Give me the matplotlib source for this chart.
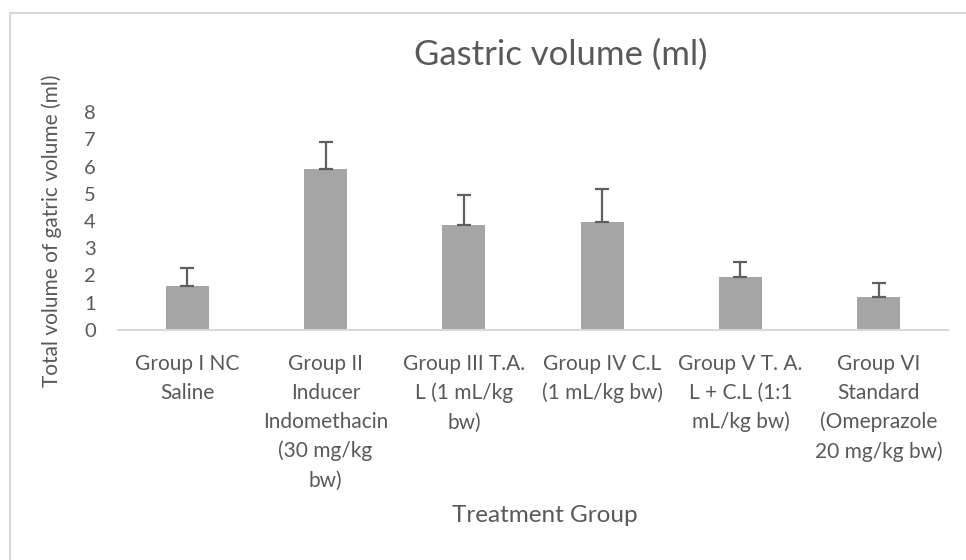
import numpy as np
import matplotlib.pyplot as plt
from matplotlib.patches import Rectangle

# data
groups = ['Group I NC\nSaline',
          'Group II\nInducer\nIndomethacin\n(30 mg/kg\nbw)',
          'Group III T.A.\nL (1 mL/kg\nbw)',
          'Group IV C.L\n(1 mL/kg bw)',
          'Group V T. A.\nL + C.L (1:1\nmL/kg bw)',
          'Group VI\nStandard\n(Omeprazole\n20 mg/kg bw)']
volume = [1.62, 5.9, 3.87, 3.97, 1.96, 1.21]
err = [0.65, 1.0, 1.08, 1.22, 0.54, 0.51]
yticks = [0, 1, 2, 3, 4, 5, 6, 7, 8]

txt = '#595959'
plt.rcParams['font.family'] = ['Lato', 'DejaVu Sans']

W, H = 966, 560
fig = plt.figure(figsize=(W/100, H/100), dpi=100)
ax = fig.add_axes([118/W, (H-330)/H, 830/W, 218/H])

x = np.arange(len(groups))
ax.bar(x, volume, width=0.31, color='#A5A5A5', zorder=2)
ax.errorbar(x, volume, yerr=[np.zeros(len(err)), err], fmt='none',
            ecolor='#5f5f5f', elinewidth=1.6, capsize=5, capthick=1.6, zorder=3)

ax.set_xlim(-0.5, len(groups)-0.5)
ax.set_ylim(0, 8)
ax.set_yticks(yticks)
ax.set_xticks(x)
ax.set_xticklabels(groups, linespacing=1.56, fontsize=15, color=txt)
ax.tick_params(axis='y', labelsize=14.5, colors=txt, length=0, pad=16)
ax.tick_params(axis='x', length=0, pad=17)
for s in ['top', 'right', 'left']:
    ax.spines[s].set_visible(False)
ax.spines['bottom'].set_color('#D9D9D9')
ax.spines['bottom'].set_linewidth(1.5)

fig.text(561/W, 1-55/H, 'Gastric volume (ml)', ha='center', va='center',
         fontsize=25, color=txt)
fig.text(52/W, 1-231/H, 'Total volume of gatric volume (ml)', ha='center',
         va='center', rotation=90, fontsize=15, color=txt)
fig.text(545/W, 1-516/H, 'Treatment Group', ha='center', va='center',
         fontsize=17.5, color=txt)

# chart border (left and top edges visible)
fig.patches.append(Rectangle((10/W, -0.1), 1.2, 1-13/H+0.1, transform=fig.transFigure,
                             fill=False, edgecolor='#D9D9D9', linewidth=1.5))

fig.savefig('out.png', dpi=100)
